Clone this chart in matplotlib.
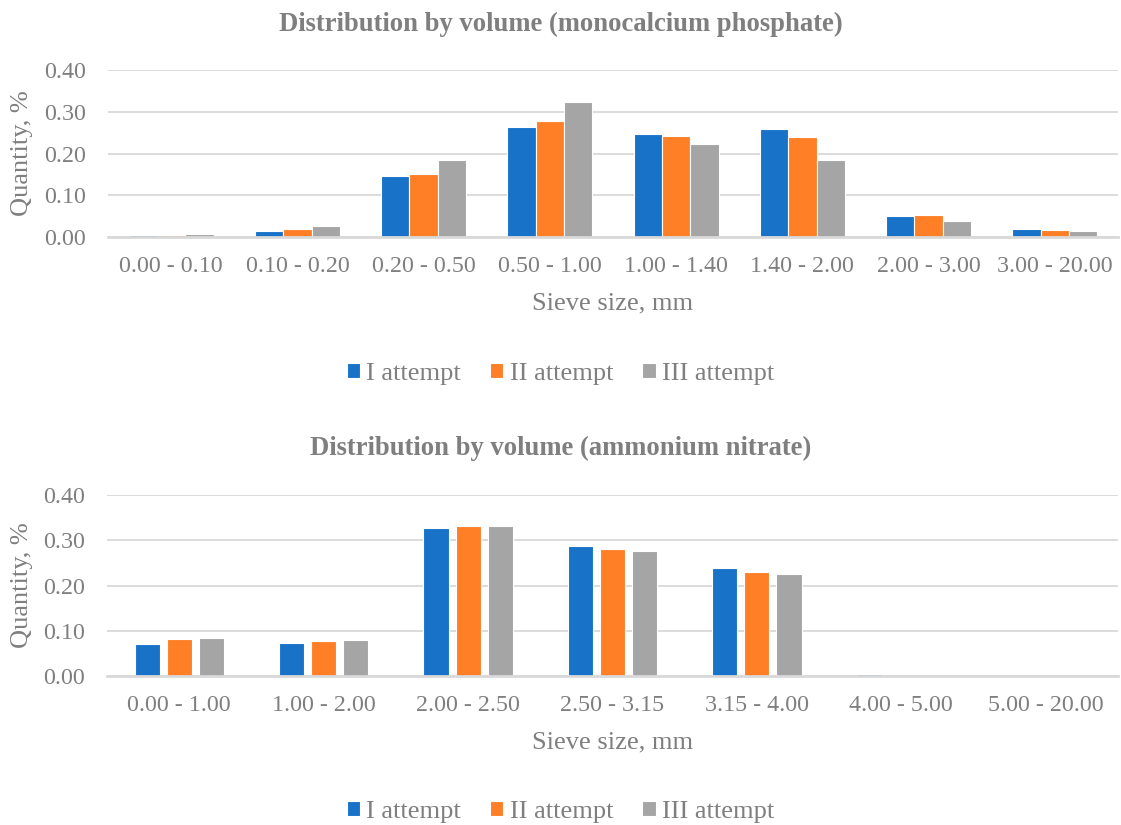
import matplotlib
matplotlib.use("Agg")
import matplotlib.pyplot as plt
import numpy as np

# ---- data ----
cats_top = ["0.00 - 0.10", "0.10 - 0.20", "0.20 - 0.50", "0.50 - 1.00",
            "1.00 - 1.40", "1.40 - 2.00", "2.00 - 3.00", "3.00 - 20.00"]
top_I = [0.004, 0.015, 0.145, 0.263, 0.247, 0.258, 0.050, 0.018]
top_II = [0.005, 0.020, 0.150, 0.278, 0.241, 0.239, 0.052, 0.016]
top_III = [0.006, 0.026, 0.184, 0.324, 0.222, 0.184, 0.038, 0.015]

cats_bot = ["0.00 - 1.00", "1.00 - 2.00", "2.00 - 2.50", "2.50 - 3.15",
            "3.15 - 4.00", "4.00 - 5.00", "5.00 - 20.00"]
bot_I = [0.071, 0.073, 0.328, 0.287, 0.239, 0.004, 0.000]
bot_II = [0.081, 0.077, 0.332, 0.280, 0.229, 0.000, 0.000]
bot_III = [0.084, 0.080, 0.332, 0.277, 0.226, 0.000, 0.000]

series_names = ["I attempt", "II attempt", "III attempt"]
yticks = [0.0, 0.1, 0.2, 0.3, 0.4]

colors = ["#1772C8", "#FF7F27", "#A5A5A5"]
TXT = "#7F7F7F"
GRID = "#D9D9D9"

plt.rcParams['font.family'] = ['Liberation Serif', 'DejaVu Serif']

W, H = 1121, 825
fig = plt.figure(figsize=(W / 100, H / 100), dpi=100)


def px_axes(left, top, right, bottom):
    return fig.add_axes([left / W, 1 - bottom / H, (right - left) / W, (bottom - top) / H])


def draw(ax, cats, data, pitch, width, title, title_y, xlabel_y, legend_y):
    x = np.arange(len(cats))
    handles = []
    for i, (vals, c, name) in enumerate(zip(data, colors, series_names)):
        b = ax.bar(x + (i - 1) * pitch, vals, width, color=c, edgecolor="white",
                   linewidth=0.8, label=name, zorder=3)
        handles.append(b)
    ax.set_xlim(-0.5, len(cats) - 0.5)
    ax.set_ylim(0, 0.40)
    ax.set_yticks(yticks)
    ax.set_yticklabels([f"{v:.2f}" for v in yticks])
    ax.set_xticks(x)
    ax.set_xticklabels(cats)
    ax.tick_params(axis='both', length=0, labelsize=17.3, labelcolor=TXT)
    ax.tick_params(axis='x', pad=14)
    ax.tick_params(axis='y', pad=16)
    ax.grid(axis='y', color=GRID, linewidth=1.3, zorder=0)
    for s in ["top", "right", "left"]:
        ax.spines[s].set_visible(False)
    ax.spines["bottom"].set_color(GRID)
    ax.spines["bottom"].set_linewidth(2)
    ax.spines["bottom"].set_zorder(4)
    pos = ax.get_position()
    fig.text(0.5, 1 - title_y / H, title, ha='center', va='center',
             fontsize=19.2, fontweight='bold', color=TXT)
    fig.text(pos.x0 + pos.width / 2, 1 - xlabel_y / H, "Sieve size, mm",
             ha='center', va='center', fontsize=19, color=TXT)
    fig.text(22 / W, pos.y0 + pos.height / 2, "Quantity, %", rotation=90,
             ha='center', va='center', fontsize=19, color=TXT)
    fig.legend(handles=handles, labels=series_names, loc='center',
               bbox_to_anchor=(0.5, 1 - legend_y / H), ncol=3, frameon=False,
               fontsize=19, labelcolor=TXT, handlelength=0.5, handleheight=0.5,
               handletextpad=0.25, columnspacing=1.1)


ax1 = px_axes(108, 70, 1118, 237)
draw(ax1, cats_top, [top_I, top_II, top_III], 0.225, 0.225,
     "Distribution by volume (monocalcium phosphate)", 24, 303, 374)

ax2 = px_axes(107, 495, 1118, 676)
draw(ax2, cats_bot, [bot_I, bot_II, bot_III], 0.222, 0.174,
     "Distribution by volume (ammonium nitrate)", 448, 742, 812)

fig.savefig("out.png", dpi=100)
